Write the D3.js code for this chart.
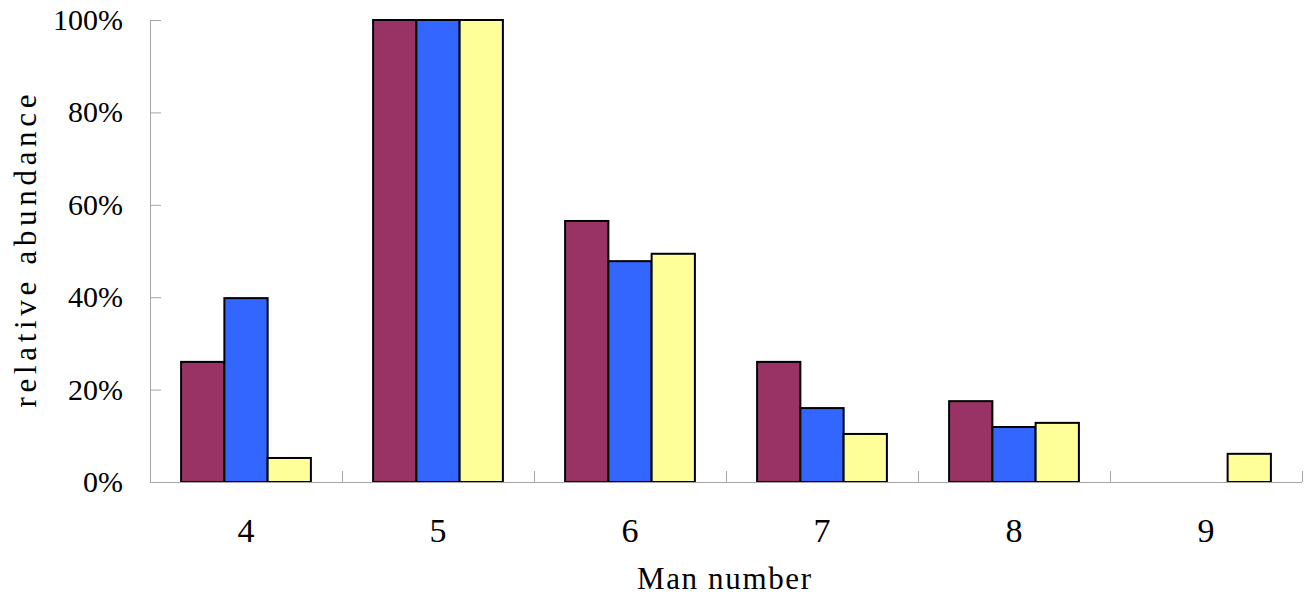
<!DOCTYPE html>
<html>
<head>
<meta charset="utf-8">
<script src="https://cdn.jsdelivr.net/npm/d3@7"></script>
<style>
  body { margin: 0; background: #fff; }
  svg { display: block; }
</style>
</head>
<body>
<svg width="1313" height="598"></svg>
<script>
const svg = d3.select("svg");

// data
const categories = ["4", "5", "6", "7", "8", "9"];
const series = ["s1", "s2", "s3"];
const s1 = [0.26, 1.00, 0.565, 0.26, 0.175, 0];
const s2 = [0.398, 1.00, 0.478, 0.16, 0.119, 0];
const s3 = [0.052, 1.00, 0.494, 0.104, 0.128, 0.061];
const yTicks = [0, 0.2, 0.4, 0.6, 0.8, 1.0];
const colors = ["#993366", "#3366FF", "#FFFF99"];

const values = [s1, s2, s3];
const plotL = 150, plotR = 1302, plotT = 20, plotB = 482;
const axisColor = "#a6a6a6";

const x0 = d3.scaleBand().domain(categories).range([plotL, plotR]);
const pad = x0.bandwidth() * 0.162;
const x1 = d3.scaleBand().domain(series).range([pad, x0.bandwidth() - pad]);
const y = d3.scaleLinear().domain([0, 1]).range([plotB, plotT]);

// bars
const groups = svg.append("g").selectAll("g")
  .data(categories)
  .join("g")
  .attr("transform", d => "translate(" + x0(d) + ",0)");

groups.selectAll("rect")
  .data((d, i) => series.map((s, j) => ({s: s, v: values[j][i], c: colors[j]})).filter(e => e.v > 0))
  .join("rect")
  .attr("x", d => x1(d.s))
  .attr("y", d => y(d.v))
  .attr("width", x1.bandwidth())
  .attr("height", d => plotB - y(d.v))
  .attr("fill", d => d.c)
  .attr("stroke", "#000")
  .attr("stroke-width", 2);

// y axis (ticks point inward)
const yAxis = svg.append("g")
  .attr("transform", "translate(" + plotL + ",0)")
  .call(d3.axisRight(y).tickValues(yTicks).tickSize(11).tickFormat(""));
yAxis.select(".domain").attr("d", "M0.5," + plotT + "V" + plotB).attr("stroke", axisColor);
yAxis.selectAll(".tick line").attr("stroke", axisColor);

svg.append("g").selectAll("text")
  .data(yTicks)
  .join("text")
  .attr("x", plotL - 27)
  .attr("y", d => y(d) + 10)
  .attr("text-anchor", "end")
  .attr("font-family", "Liberation Serif, serif")
  .attr("font-size", 30)
  .attr("fill", "#000")
  .text(d => d3.format(".0%")(d));

// x axis: baseline plus ticks between categories, pointing up
const xAxis = svg.append("g");
xAxis.append("line")
  .attr("x1", plotL).attr("x2", plotR)
  .attr("y1", plotB + 0.5).attr("y2", plotB + 0.5)
  .attr("stroke", axisColor);
xAxis.selectAll(".sep")
  .data(categories.map(c => x0(c) + x0.bandwidth()))
  .join("line")
  .attr("class", "sep")
  .attr("x1", d => d + 0.5).attr("x2", d => d + 0.5)
  .attr("y1", plotB).attr("y2", plotB - 11)
  .attr("stroke", axisColor);

svg.append("g").selectAll("text")
  .data(categories)
  .join("text")
  .attr("x", d => x0(d) + x0.bandwidth() / 2)
  .attr("y", 542)
  .attr("text-anchor", "middle")
  .attr("font-family", "Liberation Serif, serif")
  .attr("font-size", 34)
  .attr("fill", "#000")
  .text(d => d);

// axis titles (serif, spread to the monospaced width of the original)
svg.append("text")
  .attr("x", 724)
  .attr("y", 589)
  .attr("text-anchor", "middle")
  .attr("font-family", "Liberation Serif, serif")
  .attr("font-size", 31)
  .attr("textLength", 174)
  .attr("fill", "#000")
  .text("Man number");

svg.append("text")
  .attr("transform", "translate(36,251) rotate(-90)")
  .attr("text-anchor", "middle")
  .attr("font-family", "Liberation Serif, serif")
  .attr("font-size", 31)
  .attr("textLength", 313)
  .attr("fill", "#000")
  .text("relative abundance");
</script>
</body>
</html>
